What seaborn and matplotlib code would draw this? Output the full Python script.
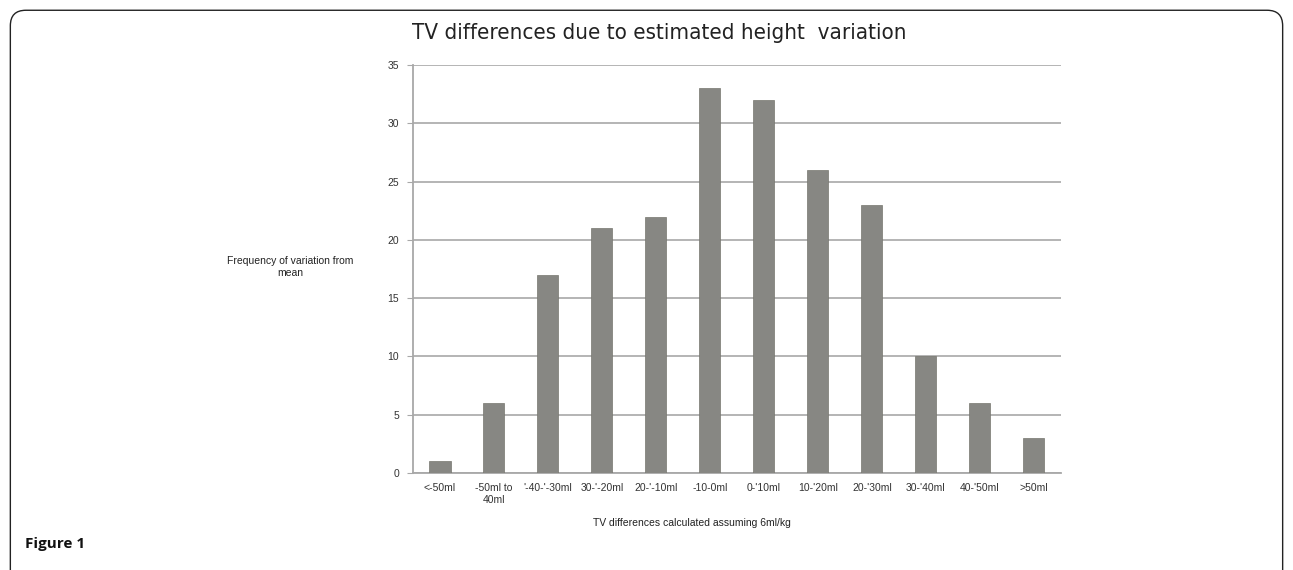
import numpy as np
import pandas as pd
import matplotlib
matplotlib.use("Agg")
import matplotlib.pyplot as plt
import seaborn as sns
from matplotlib.patches import FancyBboxPatch

# ================= DATA =================
categories = ["<-50ml", "-50ml to\n40ml", "'-40-'-30ml", "30-'-20ml", "20-'-10ml", "-10-0ml",
              "0-'10ml", "10-'20ml", "20-'30ml", "30-'40ml", "40-'50ml", ">50ml"]
frequency = [1, 6, 17, 21, 22, 33, 32, 26, 23, 10, 6, 3]
y_ticks = [0, 5, 10, 15, 20, 25, 30, 35]

TITLE = "TV differences due to estimated height  variation"
XLABEL = "TV differences calculated assuming 6ml/kg"
YLABEL = "Frequency of variation from\nmean"

df = pd.DataFrame({"cat": categories, "freq": frequency})

sns.set_style("white")
plt.rcParams['font.family'] = ['Liberation Sans', 'DejaVu Sans']

fig = plt.figure(figsize=(12.93, 5.70), dpi=100)
ax = fig.add_axes([0.3194, 0.170, 0.501, 0.716])

sns.barplot(data=df, x="cat", y="freq", color="#878783", saturation=1, width=0.39, ax=ax, zorder=3)
for p in ax.patches:
    p.set_edgecolor("#77776f")
    p.set_linewidth(0.5)

ax.set_ylim(0, 35)
ax.set_xlim(-0.5, len(categories) - 0.5)
ax.set_yticks(y_ticks)
ax.yaxis.grid(True, color="#a0a0a0", linewidth=1.1, zorder=0)
ax.set_axisbelow(True)

for s in ["top", "right"]:
    ax.spines[s].set_visible(False)
for s in ["left", "bottom"]:
    ax.spines[s].set_color("#a8a8a8")
    ax.spines[s].set_linewidth(1.3)

# Excel-style ticks between categories
ax.set_xticks(np.arange(len(categories)))
ax.set_xticklabels(categories, fontsize=7.5, color="#333333", linespacing=1.25)
ax.tick_params(axis="x", length=0, pad=7)
ax.set_xticks(np.arange(-0.5, len(categories)), minor=True)
ax.tick_params(axis="x", which="minor", length=4, color="#a8a8a8", direction="out")
ax.tick_params(axis="y", labelsize=7.5, labelcolor="#333333", length=4, color="#a8a8a8",
               direction="out", left=True, pad=6)

ax.set_xlabel(XLABEL, fontsize=7.5, color="#222222", labelpad=13)
ax.xaxis.set_label_coords(0.43, -0.11)
ax.set_ylabel(YLABEL, fontsize=7.5, color="#222222", rotation=0, ha="center", va="center")
ax.yaxis.set_label_coords(-0.19, 0.505)

fig.text(0.51, 0.942, TITLE, ha="center", va="center", fontsize=16, color="#222222",
         family=["DejaVu Sans"], stretch="condensed")

# outer frame and caption
frame = FancyBboxPatch((0.008, -0.05), 0.984, 1.032, transform=fig.transFigure,
                       boxstyle="round,pad=0,rounding_size=0.012", fill=False,
                       edgecolor="#222222", linewidth=1.0, mutation_aspect=2.27)
fig.patches.append(frame)
fig.text(0.019, 0.045, "Figure 1", fontsize=11, fontweight="bold", color="#111111",
         family=["Open Sans", "DejaVu Sans"], va="center")

fig.savefig("out.png", dpi=100)
